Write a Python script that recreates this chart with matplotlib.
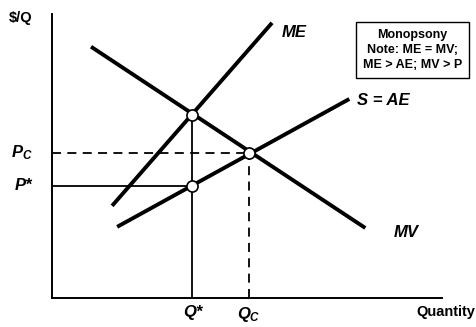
import numpy as np
import matplotlib.pyplot as plt

plt.rcParams['font.family'] = ['Liberation Sans', 'DejaVu Sans']
plt.rcParams['mathtext.fontset'] = 'custom'
plt.rcParams['mathtext.it'] = 'Liberation Sans:bold:italic'
plt.rcParams['mathtext.rm'] = 'Liberation Sans:bold'

# curve endpoints (quantity, price)
mv_x = [1.0, 8.03]
mv_y = [8.84, 2.46]
ae_x = [1.67, 7.62]
ae_y = [2.5, 7.0]
me_x = [1.54, 5.64]
me_y = [3.24, 9.68]

# key points
q_star = 3.6
p_me = 6.45
p_star = 3.95
q_c = 5.05
p_c = 5.1

fig = plt.figure(figsize=(4.77, 3.27), dpi=100)
ax = fig.add_axes([0.109, 0.089, 0.818, 0.869])
ax.set_xlim(0, 10)
ax.set_ylim(0, 10)

lw = 2.8
ax.plot(mv_x, mv_y, color='black', lw=lw, solid_capstyle='butt')
ax.plot(ae_x, ae_y, color='black', lw=lw, solid_capstyle='butt')
ax.plot(me_x, me_y, color='black', lw=lw, solid_capstyle='butt')

# monopsony quantity / price
ax.plot([q_star, q_star], [0, p_me], color='black', lw=1.3)
ax.plot([0, q_star], [p_star, p_star], color='black', lw=1.3)

# competitive outcome
ax.plot([q_c, q_c], [0, p_c], color='black', lw=1.3, ls=(0, (5, 3.5)))
ax.plot([0, q_c], [p_c, p_c], color='black', lw=1.3, ls=(0, (5, 3.5)))

ax.plot([q_star, q_star, q_c], [p_me, p_star, p_c], 'o', ms=8,
        mfc='white', mec='black', mew=1.2, zorder=5)

for s in ['top', 'right']:
    ax.spines[s].set_visible(False)
for s in ['left', 'bottom']:
    ax.spines[s].set_linewidth(1.4)
ax.set_xticks([])
ax.set_yticks([])

lab = dict(fontsize=12, fontweight='bold', fontstyle='italic')
ax.text(q_star, -0.25, 'Q*', ha='center', va='top', **lab)
ax.text(q_c, -0.25, '$Q_C$', ha='center', va='top', **lab)
ax.text(-0.5, p_c, '$P_C$', ha='right', va='center', **lab)
ax.text(-0.5, p_star, 'P*', ha='right', va='center', **lab)
ax.text(5.9, 9.35, 'ME', ha='left', va='center', **lab)
ax.text(7.82, 6.95, 'S = AE', ha='left', va='center', **lab)
ax.text(8.75, 2.3, 'MV', ha='left', va='center', **lab)

ax.text(-0.8, 9.85, '$/Q', ha='center', va='center', fontsize=10.5, fontweight='bold')
ax.text(10.85, -0.25, 'Quantity', ha='right', va='top', fontsize=10.5, fontweight='bold')

ax.text(9.24, 8.72, 'Monopsony\nNote: ME = MV;\nME > AE; MV > P', ha='center', va='center',
        fontsize=9, fontweight='bold', linespacing=1.35,
        bbox=dict(boxstyle='square,pad=0.55', fc='white', ec='black', lw=1.0))

fig.savefig('out.png', dpi=100)
